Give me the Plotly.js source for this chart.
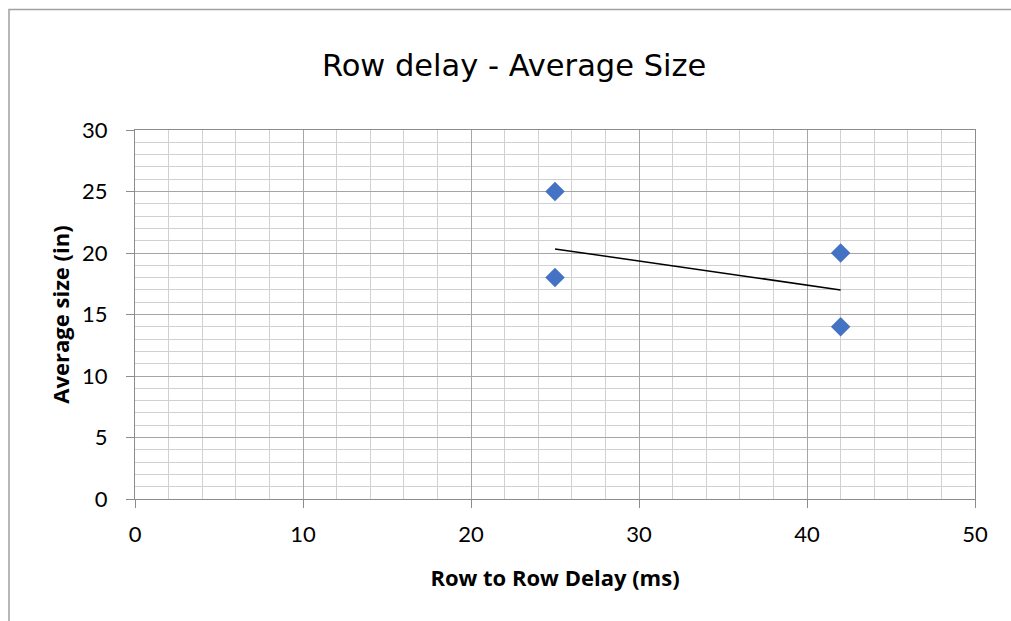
<!DOCTYPE html>
<html>
<head>
<meta charset="utf-8">
<script src="https://cdn.plot.ly/plotly-3.0.1.min.js"></script>
<style>html,body{margin:0;padding:0;background:#fff;}#chart{width:1011px;height:621px;}</style>
</head>
<body>
<div id="chart"></div>
<script>
// Data
var delayMs = [25, 25, 42, 42];
var avgSize = [25, 18, 20, 14];
var trendX = [25, 42];
var trendY = [20.33, 17.0];
var xTickVals = [0, 10, 20, 30, 40, 50];
var yTickVals = [0, 5, 10, 15, 20, 25, 30];

var traces = [
  {
    x: trendX, y: trendY, type: 'scatter', mode: 'lines',
    line: {color: '#000000', width: 1.5}, hoverinfo: 'skip', showlegend: false
  },
  {
    x: delayMs, y: avgSize, type: 'scatter', mode: 'markers',
    marker: {symbol: 'diamond', size: 15, color: '#4472C4', line: {width: 0}},
    showlegend: false
  }
];

var tickFont = {family: 'Lato, sans-serif', size: 22, color: '#000'};
var axTitleFont = {family: 'Open Sans, sans-serif', size: 22, color: '#000', weight: 'bold'};
var layout = {
  width: 1011, height: 621,
  margin: {l: 135, r: 36, t: 130, b: 122},
  paper_bgcolor: '#fff', plot_bgcolor: '#fff',
  title: {
    text: 'Row delay - Average Size',
    font: {family: 'DejaVu Sans, sans-serif', size: 30.5, color: '#000'},
    x: 0.5085, xanchor: 'center', yref: 'container', y: 0.895, yanchor: 'middle'
  },
  xaxis: {
    range: [0, 50], tickvals: xTickVals, ticktext: xTickVals.map(String),
    showgrid: true, gridcolor: '#a6a6a6', gridwidth: 1,
    minor: {dtick: 2, tick0: 0, showgrid: true, gridcolor: '#d0d0d0', gridwidth: 1, ticks: ''},
    showline: true, linecolor: '#8c8c8c', linewidth: 1, mirror: true,
    ticks: 'outside', ticklen: 8, tickcolor: '#8c8c8c', tickwidth: 1,
    zeroline: false, tickfont: tickFont, ticklabelstandoff: 8,
    title: {text: 'Row to Row Delay (ms)', font: axTitleFont, standoff: 24}
  },
  yaxis: {
    range: [0, 30], tickvals: yTickVals, ticktext: yTickVals.map(String),
    showgrid: true, gridcolor: '#a6a6a6', gridwidth: 1,
    minor: {dtick: 1, tick0: 0, showgrid: true, gridcolor: '#d0d0d0', gridwidth: 1, ticks: ''},
    showline: true, linecolor: '#8c8c8c', linewidth: 1, mirror: true,
    ticks: 'outside', ticklen: 8, tickcolor: '#8c8c8c', tickwidth: 1,
    zeroline: false, tickfont: tickFont, ticklabelstandoff: 14,
    title: {text: 'Average size (in)', font: axTitleFont, standoff: 6}
  },
  shapes: [
    {type: 'rect', xref: 'paper', yref: 'paper', x0: -0.1500, x1: 1.06, y0: -0.40, y1: 1.3266,
     line: {color: '#a0a0a0', width: 1.5}, fillcolor: 'rgba(0,0,0,0)', layer: 'below'}
  ]
};

Plotly.newPlot('chart', traces, layout, {staticPlot: true, displayModeBar: false});
</script>
</body>
</html>
